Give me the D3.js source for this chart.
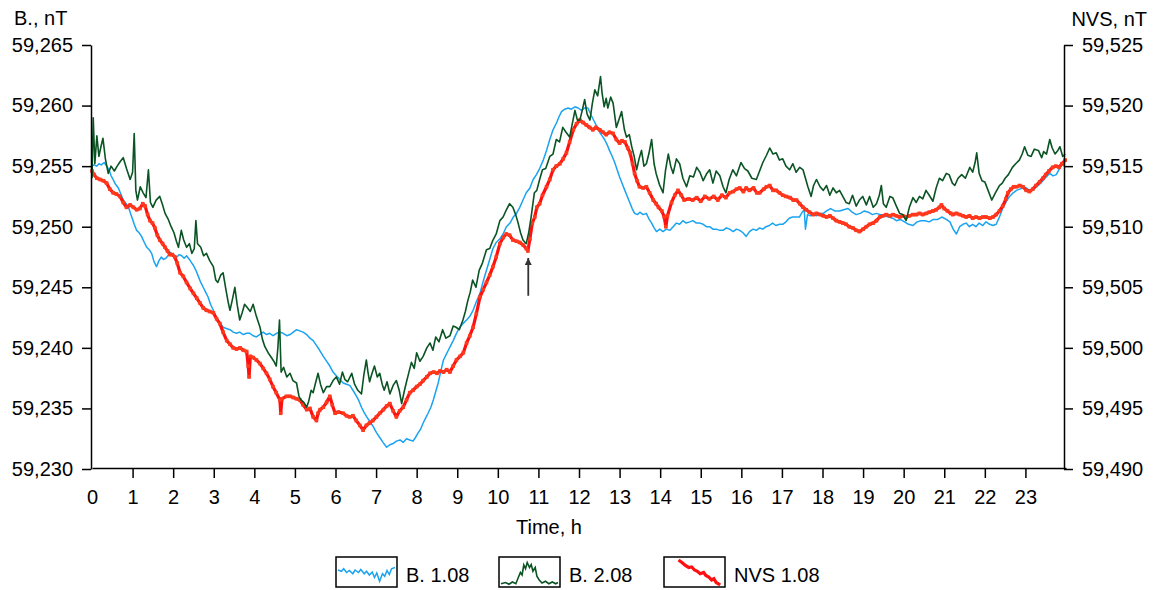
<!DOCTYPE html>
<html>
<head>
<meta charset="utf-8">
<style>
  body { margin: 0; background: #fff; }
  svg { display: block; font-family: Arial, "Liberation Sans", sans-serif; }
</style>
</head>
<body>
<svg id="chart" width="1155" height="590"></svg>
<script src="https://cdn.jsdelivr.net/npm/d3@7/dist/d3.min.js"></script>
<script>
// ---- data: [hour, nT] ----
const hourTicks = [0,1,2,3,4,5,6,7,8,9,10,11,12,13,14,15,16,17,18,19,20,21,22,23];
const leftTicks = [59230,59235,59240,59245,59250,59255,59260,59265];
const rightTicks = [59490,59495,59500,59505,59510,59515,59520,59525];

// B. 1.08 (left axis)
const b108 = [[0,59255.0],[0.05,59255.1],[0.12,59255.0],[0.17,59255.2],[0.23,59255.1],[0.3,59255.3],[0.36,59255.0],[0.42,59254.7],[0.47,59254.2],[0.52,59253.9],[0.58,59253.5],[0.65,59253.2],[0.71,59252.7],[0.77,59252.2],[0.84,59251.9],[0.9,59251.6],[0.95,59251.1],[0.98,59250.8],[1.04,59250.2],[1.1,59249.7],[1.16,59249.5],[1.22,59249.2],[1.29,59248.7],[1.35,59248.3],[1.41,59248.1],[1.47,59247.8],[1.53,59247.1],[1.59,59246.7],[1.65,59247.2],[1.71,59247.5],[1.76,59247.3],[1.82,59247.4],[1.87,59247.6],[1.92,59247.9],[1.96,59247.8],[2.03,59247.6],[2.09,59247.5],[2.15,59247.7],[2.21,59247.6],[2.27,59247.4],[2.33,59247.6],[2.4,59247.3],[2.46,59247.0],[2.5,59246.8],[2.56,59246.4],[2.62,59245.9],[2.68,59245.4],[2.74,59245.0],[2.8,59244.6],[2.86,59244.2],[2.92,59243.6],[2.99,59243.1],[3.05,59242.6],[3.11,59242.3],[3.17,59242.0],[3.23,59241.7],[3.31,59241.6],[3.4,59241.5],[3.48,59241.3],[3.56,59241.2],[3.64,59241.3],[3.73,59241.1],[3.81,59241.2],[3.89,59241.2],[3.97,59241.0],[4.05,59240.9],[4.13,59241.1],[4.22,59241.3],[4.3,59241.1],[4.38,59241.2],[4.46,59241.0],[4.55,59241.2],[4.63,59241.3],[4.71,59241.2],[4.8,59241.0],[4.88,59241.1],[4.96,59241.3],[5.04,59241.5],[5.12,59241.4],[5.2,59241.3],[5.29,59241.1],[5.37,59240.8],[5.45,59240.6],[5.53,59240.2],[5.61,59239.8],[5.7,59239.3],[5.78,59238.9],[5.86,59238.5],[5.94,59238.0],[6.02,59237.7],[6.1,59237.4],[6.19,59237.1],[6.27,59237.0],[6.35,59236.9],[6.43,59236.5],[6.52,59236.0],[6.58,59235.6],[6.64,59235.1],[6.7,59234.7],[6.77,59234.3],[6.85,59233.9],[6.93,59233.5],[7.01,59233.0],[7.09,59232.6],[7.17,59232.2],[7.26,59231.8],[7.34,59232.0],[7.42,59232.1],[7.5,59232.3],[7.59,59232.4],[7.67,59232.2],[7.75,59232.5],[7.83,59232.4],[7.91,59232.3],[7.97,59232.6],[8.04,59233.0],[8.1,59233.3],[8.16,59233.8],[8.22,59234.2],[8.28,59234.6],[8.35,59235.1],[8.41,59235.7],[8.47,59236.4],[8.53,59237.1],[8.59,59238.0],[8.66,59239.0],[8.72,59239.4],[8.78,59239.8],[8.84,59240.2],[8.9,59240.6],[8.98,59241.2],[9.06,59241.7],[9.14,59242.0],[9.23,59242.3],[9.31,59242.6],[9.39,59243.1],[9.47,59243.8],[9.56,59244.5],[9.64,59245.5],[9.72,59246.4],[9.8,59247.3],[9.88,59248.2],[9.96,59248.7],[10.05,59249.0],[10.13,59249.4],[10.21,59250.0],[10.3,59250.3],[10.38,59250.8],[10.46,59251.1],[10.54,59251.6],[10.62,59252.2],[10.7,59252.8],[10.79,59253.2],[10.87,59253.9],[10.95,59254.3],[11.03,59254.8],[11.12,59255.5],[11.2,59256.3],[11.28,59257.2],[11.36,59258.0],[11.45,59258.6],[11.51,59259.1],[11.57,59259.5],[11.65,59259.7],[11.73,59259.8],[11.81,59259.7],[11.9,59259.9],[11.98,59259.8],[12.06,59259.6],[12.14,59259.8],[12.22,59259.8],[12.3,59259.2],[12.39,59258.6],[12.45,59258.2],[12.51,59257.8],[12.57,59257.5],[12.63,59257.2],[12.69,59256.8],[12.75,59256.3],[12.82,59255.8],[12.88,59255.3],[12.94,59254.7],[13.0,59254.1],[13.07,59253.5],[13.13,59253.0],[13.19,59252.5],[13.25,59252.0],[13.31,59251.5],[13.37,59251.1],[13.44,59251.0],[13.5,59251.2],[13.58,59251.0],[13.66,59251.1],[13.73,59250.6],[13.79,59250.3],[13.85,59249.9],[13.91,59249.6],[13.99,59249.8],[14.07,59249.6],[14.15,59249.8],[14.24,59249.7],[14.32,59250.0],[14.4,59250.3],[14.48,59250.2],[14.56,59250.5],[14.64,59250.3],[14.73,59250.4],[14.81,59250.5],[14.89,59250.3],[14.98,59250.3],[15.06,59250.2],[15.14,59250.0],[15.22,59250.0],[15.3,59249.8],[15.38,59249.8],[15.47,59249.7],[15.55,59249.7],[15.63,59249.9],[15.71,59249.8],[15.8,59249.6],[15.88,59249.8],[15.96,59249.7],[16.04,59249.5],[16.12,59249.2],[16.2,59249.6],[16.29,59249.8],[16.37,59249.7],[16.45,59249.9],[16.53,59249.8],[16.61,59250.0],[16.69,59250.1],[16.77,59250.3],[16.85,59250.1],[16.94,59250.2],[17.02,59250.2],[17.1,59250.4],[17.18,59250.7],[17.26,59250.8],[17.35,59250.8],[17.43,59250.8],[17.5,59251.2],[17.55,59251.4],[17.58,59249.8],[17.63,59251.0],[17.7,59250.9],[17.77,59251.0],[17.85,59250.9],[17.94,59251.1],[18.02,59251.1],[18.1,59251.3],[18.2,59251.5],[18.3,59251.3],[18.42,59251.3],[18.52,59251.4],[18.63,59251.5],[18.73,59251.2],[18.83,59251.0],[18.93,59251.1],[19.03,59251.3],[19.13,59251.2],[19.23,59251.0],[19.33,59251.1],[19.43,59251.0],[19.53,59250.9],[19.63,59250.8],[19.73,59250.7],[19.82,59250.5],[19.92,59250.6],[20.02,59250.4],[20.12,59250.2],[20.23,59250.1],[20.33,59250.4],[20.43,59250.5],[20.53,59250.5],[20.63,59250.4],[20.73,59250.6],[20.84,59250.6],[20.94,59250.8],[21.05,59250.6],[21.14,59250.4],[21.22,59249.8],[21.3,59249.4],[21.38,59250.0],[21.46,59250.2],[21.54,59250.3],[21.62,59250.0],[21.7,59250.2],[21.78,59250.0],[21.86,59250.3],[21.95,59250.1],[22.03,59250.4],[22.12,59250.2],[22.2,59250.1],[22.28,59250.2],[22.36,59250.8],[22.45,59251.6],[22.53,59252.1],[22.61,59252.5],[22.7,59252.8],[22.78,59253.0],[22.86,59253.1],[22.94,59253.2],[23.02,59253.2],[23.1,59253.0],[23.19,59253.0],[23.27,59253.3],[23.35,59253.5],[23.43,59253.8],[23.51,59254.1],[23.6,59254.4],[23.68,59254.2],[23.76,59254.3],[23.84,59254.8],[23.9,59255.2],[23.96,59255.0]];

// B. 2.08 (left axis)
const b208 = [[0,59254.0],[0.03,59259.0],[0.07,59255.2],[0.12,59257.5],[0.17,59255.8],[0.22,59256.6],[0.27,59257.3],[0.33,59255.6],[0.4,59254.4],[0.47,59255.0],[0.55,59254.6],[0.62,59255.0],[0.7,59255.4],[0.77,59255.7],[0.85,59254.8],[0.94,59253.9],[1.0,59254.5],[1.04,59257.7],[1.08,59253.0],[1.12,59252.2],[1.19,59253.3],[1.26,59252.8],[1.33,59252.4],[1.39,59254.7],[1.44,59252.0],[1.5,59251.6],[1.58,59252.2],[1.67,59252.5],[1.74,59251.8],[1.8,59251.1],[1.88,59250.6],[1.95,59250.0],[2.02,59249.5],[2.08,59248.8],[2.13,59248.3],[2.2,59249.7],[2.26,59248.9],[2.33,59248.3],[2.4,59248.6],[2.46,59247.8],[2.52,59248.2],[2.56,59250.5],[2.6,59248.6],[2.68,59248.3],[2.75,59247.6],[2.82,59247.8],[2.9,59247.2],[2.99,59246.7],[3.05,59245.6],[3.1,59245.4],[3.17,59246.0],[3.23,59246.2],[3.3,59244.8],[3.36,59243.7],[3.4,59243.1],[3.46,59244.0],[3.52,59245.0],[3.58,59243.5],[3.64,59242.3],[3.7,59242.9],[3.76,59243.6],[3.81,59243.4],[3.9,59243.0],[3.97,59243.6],[4.05,59242.6],[4.14,59241.7],[4.2,59240.7],[4.26,59240.1],[4.34,59239.6],[4.42,59239.2],[4.48,59238.9],[4.54,59238.5],[4.58,59240.0],[4.62,59242.3],[4.66,59238.0],[4.72,59238.4],[4.8,59237.6],[4.88,59237.9],[4.95,59237.3],[5.04,59237.1],[5.1,59236.0],[5.15,59235.7],[5.22,59235.5],[5.29,59235.1],[5.34,59235.6],[5.4,59236.5],[5.45,59236.3],[5.5,59237.0],[5.57,59237.9],[5.63,59237.0],[5.7,59236.3],[5.78,59236.8],[5.86,59236.8],[5.94,59237.3],[6.02,59237.6],[6.1,59237.0],[6.17,59238.0],[6.23,59237.4],[6.3,59237.2],[6.4,59237.9],[6.47,59237.0],[6.55,59236.5],[6.64,59236.2],[6.7,59237.8],[6.76,59239.0],[6.8,59238.0],[6.84,59237.2],[6.9,59237.9],[6.96,59238.5],[7.03,59237.6],[7.09,59237.9],[7.15,59237.0],[7.2,59236.5],[7.27,59237.2],[7.34,59236.2],[7.42,59236.9],[7.5,59237.3],[7.57,59236.5],[7.63,59235.4],[7.7,59236.5],[7.75,59237.2],[7.81,59238.0],[7.87,59238.8],[7.94,59238.3],[8.0,59239.6],[8.08,59238.9],[8.16,59239.3],[8.25,59240.0],[8.33,59240.4],[8.4,59239.8],[8.47,59240.9],[8.55,59240.5],[8.64,59241.5],[8.72,59240.8],[8.82,59241.0],[8.9,59241.8],[8.97,59241.7],[9.05,59241.5],[9.14,59242.3],[9.2,59243.0],[9.26,59243.9],[9.32,59244.6],[9.38,59245.6],[9.46,59245.0],[9.54,59246.4],[9.62,59247.0],[9.72,59248.1],[9.8,59248.2],[9.88,59248.9],[9.96,59249.4],[10.05,59250.5],[10.13,59250.8],[10.21,59251.4],[10.29,59251.9],[10.37,59251.6],[10.44,59251.0],[10.5,59250.3],[10.56,59249.5],[10.62,59248.9],[10.7,59248.6],[10.76,59249.5],[10.82,59250.8],[10.9,59252.8],[10.96,59253.0],[11.03,59253.9],[11.1,59254.7],[11.18,59254.8],[11.28,59255.8],[11.36,59256.0],[11.44,59257.2],[11.52,59257.0],[11.6,59258.2],[11.68,59257.8],[11.77,59257.4],[11.84,59258.6],[11.9,59259.6],[11.96,59258.8],[12.02,59258.8],[12.08,59259.6],[12.14,59260.5],[12.2,59259.3],[12.27,59258.8],[12.33,59260.2],[12.39,59261.3],[12.46,59260.8],[12.53,59262.4],[12.57,59261.0],[12.62,59259.9],[12.67,59260.6],[12.71,59259.8],[12.78,59260.7],[12.84,59260.2],[12.92,59258.2],[13.0,59259.0],[13.05,59259.5],[13.12,59258.0],[13.17,59257.4],[13.24,59257.6],[13.3,59256.6],[13.36,59255.8],[13.42,59254.7],[13.48,59255.6],[13.54,59256.3],[13.6,59255.0],[13.66,59255.2],[13.72,59256.0],[13.79,59257.2],[13.85,59255.2],[13.9,59254.4],[13.98,59253.5],[14.07,59252.8],[14.13,59254.6],[14.2,59256.0],[14.26,59255.0],[14.32,59254.4],[14.4,59255.6],[14.48,59255.2],[14.56,59254.0],[14.65,59253.3],[14.73,59254.2],[14.82,59254.1],[14.9,59254.9],[14.98,59254.5],[15.06,59253.8],[15.15,59254.4],[15.22,59254.7],[15.3,59253.6],[15.38,59254.6],[15.47,59254.2],[15.55,59253.3],[15.62,59252.8],[15.7,59253.9],[15.79,59254.7],[15.88,59254.2],[15.99,59255.3],[16.08,59254.8],[16.16,59254.6],[16.26,59254.0],[16.37,59253.9],[16.45,59254.6],[16.53,59255.3],[16.62,59255.9],[16.7,59256.5],[16.78,59256.0],[16.86,59256.1],[16.94,59255.5],[17.02,59255.6],[17.1,59255.0],[17.19,59254.7],[17.27,59255.2],[17.35,59254.5],[17.44,59254.9],[17.52,59254.7],[17.58,59254.0],[17.64,59253.3],[17.72,59252.5],[17.78,59253.4],[17.85,59253.9],[17.94,59253.3],[18.02,59253.0],[18.1,59253.4],[18.18,59252.6],[18.26,59253.2],[18.34,59252.8],[18.42,59253.0],[18.5,59252.5],[18.58,59252.0],[18.66,59251.9],[18.74,59252.6],[18.83,59251.7],[18.91,59252.2],[18.99,59252.5],[19.08,59251.8],[19.16,59252.5],[19.25,59251.6],[19.33,59251.9],[19.4,59252.6],[19.45,59253.4],[19.5,59251.9],[19.57,59251.6],[19.66,59252.5],[19.73,59252.4],[19.82,59251.7],[19.9,59251.1],[19.98,59251.0],[20.06,59250.5],[20.14,59251.6],[20.23,59252.4],[20.31,59252.0],[20.39,59252.5],[20.47,59252.3],[20.55,59253.0],[20.63,59252.6],[20.72,59252.1],[20.8,59253.2],[20.88,59254.0],[20.96,59253.8],[21.05,59254.4],[21.12,59254.3],[21.2,59253.6],[21.26,59253.4],[21.34,59254.0],[21.43,59254.3],[21.52,59254.0],[21.63,59254.9],[21.7,59254.5],[21.76,59255.3],[21.8,59256.1],[21.86,59254.4],[21.93,59253.8],[22.0,59253.7],[22.08,59253.0],[22.17,59252.2],[22.26,59252.8],[22.36,59253.4],[22.43,59253.6],[22.5,59254.0],[22.58,59254.3],[22.68,59254.9],[22.76,59255.2],[22.85,59255.5],[22.92,59256.0],[22.98,59256.6],[23.06,59255.9],[23.14,59255.8],[23.22,59256.4],[23.32,59256.3],[23.4,59255.7],[23.45,59256.2],[23.52,59256.0],[23.6,59257.2],[23.66,59256.5],[23.73,59256.0],[23.8,59256.3],[23.85,59256.6],[23.92,59255.8],[23.98,59256.0]];

// NVS 1.08 (right axis)
const nvs108 = [[0,59514.6],[0.05,59514.3],[0.12,59514.0],[0.2,59513.9],[0.28,59513.8],[0.36,59513.6],[0.44,59513.1],[0.52,59512.8],[0.6,59512.7],[0.69,59512.5],[0.77,59512.0],[0.85,59511.6],[0.94,59511.8],[1.02,59511.6],[1.1,59511.4],[1.18,59511.5],[1.25,59511.9],[1.31,59511.7],[1.37,59511.0],[1.43,59510.5],[1.49,59510.3],[1.55,59509.9],[1.61,59509.3],[1.67,59508.9],[1.74,59508.6],[1.8,59508.3],[1.86,59508.0],[1.92,59507.7],[1.98,59507.7],[2.04,59507.5],[2.1,59507.0],[2.17,59506.2],[2.25,59505.9],[2.33,59505.4],[2.42,59504.9],[2.5,59504.5],[2.58,59504.1],[2.66,59503.7],[2.74,59503.3],[2.82,59503.1],[2.9,59503.0],[2.99,59502.9],[3.07,59502.4],[3.15,59502.0],[3.23,59501.3],[3.32,59500.6],[3.4,59500.3],[3.48,59500.0],[3.56,59499.9],[3.65,59500.0],[3.73,59499.8],[3.81,59499.7],[3.85,59498.5],[3.87,59497.6],[3.9,59499.3],[3.97,59499.2],[4.05,59499.0],[4.14,59498.7],[4.22,59498.3],[4.3,59497.9],[4.38,59497.4],[4.46,59496.8],[4.54,59496.3],[4.63,59495.7],[4.65,59494.6],[4.68,59495.8],[4.79,59496.0],[4.88,59496.0],[4.96,59495.9],[5.04,59495.8],[5.12,59495.7],[5.2,59495.3],[5.29,59494.9],[5.37,59495.0],[5.45,59494.3],[5.53,59494.0],[5.57,59494.6],[5.62,59494.9],[5.7,59495.1],[5.78,59495.5],[5.86,59496.0],[5.92,59495.3],[5.99,59494.6],[6.07,59494.7],[6.19,59494.6],[6.27,59494.4],[6.35,59494.3],[6.43,59494.4],[6.51,59494.0],[6.6,59493.6],[6.68,59493.2],[6.76,59493.6],[6.84,59493.8],[6.92,59494.0],[7.01,59494.3],[7.09,59494.6],[7.18,59494.9],[7.26,59495.2],[7.34,59495.4],[7.42,59494.8],[7.5,59494.3],[7.58,59494.8],[7.67,59495.1],[7.75,59495.7],[7.83,59496.3],[7.91,59496.5],[8.0,59496.8],[8.08,59497.0],[8.16,59497.3],[8.25,59497.6],[8.33,59497.9],[8.42,59498.0],[8.5,59497.9],[8.58,59498.1],[8.66,59498.0],[8.74,59498.2],[8.82,59498.0],[8.9,59498.5],[8.98,59499.0],[9.07,59499.3],[9.15,59499.6],[9.23,59500.4],[9.31,59501.0],[9.39,59501.7],[9.47,59502.8],[9.56,59504.2],[9.64,59504.8],[9.72,59505.4],[9.8,59506.0],[9.88,59506.7],[9.96,59507.5],[10.05,59508.6],[10.13,59509.1],[10.21,59509.4],[10.29,59509.3],[10.37,59508.9],[10.46,59508.8],[10.54,59508.7],[10.62,59508.5],[10.7,59508.2],[10.74,59508.0],[10.79,59509.0],[10.85,59510.3],[10.91,59510.8],[10.96,59511.6],[11.03,59511.9],[11.1,59512.6],[11.2,59513.3],[11.28,59513.9],[11.36,59514.7],[11.44,59515.0],[11.53,59515.2],[11.61,59515.6],[11.69,59516.1],[11.77,59517.0],[11.86,59518.0],[11.94,59518.5],[12.02,59518.8],[12.1,59518.6],[12.18,59518.4],[12.26,59518.2],[12.34,59518.0],[12.42,59518.2],[12.51,59518.0],[12.59,59517.8],[12.67,59517.6],[12.75,59517.8],[12.84,59517.7],[12.92,59517.2],[13.0,59516.9],[13.06,59517.1],[13.13,59517.0],[13.2,59516.5],[13.26,59516.1],[13.32,59515.2],[13.37,59514.4],[13.43,59513.8],[13.49,59513.3],[13.58,59513.2],[13.66,59513.3],[13.74,59512.8],[13.83,59512.2],[13.9,59511.9],[13.96,59511.6],[14.04,59511.3],[14.1,59510.8],[14.14,59510.0],[14.18,59510.9],[14.28,59512.0],[14.36,59512.6],[14.44,59513.0],[14.52,59512.6],[14.59,59512.2],[14.7,59512.3],[14.8,59512.2],[14.9,59512.4],[15.0,59512.1],[15.1,59512.5],[15.21,59512.3],[15.32,59512.5],[15.42,59512.2],[15.52,59512.6],[15.62,59512.4],[15.71,59512.8],[15.8,59512.9],[15.88,59513.1],[15.96,59513.2],[16.05,59512.9],[16.12,59513.2],[16.2,59513.0],[16.3,59513.2],[16.38,59512.8],[16.45,59512.8],[16.55,59513.1],[16.62,59513.3],[16.7,59513.4],[16.78,59513.0],[16.86,59513.0],[16.94,59512.8],[17.02,59512.6],[17.1,59512.5],[17.2,59512.4],[17.28,59512.2],[17.36,59512.2],[17.44,59511.9],[17.52,59511.6],[17.6,59511.4],[17.68,59511.2],[17.77,59511.0],[17.85,59511.1],[17.94,59511.0],[18.02,59510.9],[18.1,59510.8],[18.18,59510.9],[18.26,59510.7],[18.34,59510.5],[18.42,59510.4],[18.5,59510.3],[18.58,59510.2],[18.66,59510.0],[18.75,59509.9],[18.83,59509.7],[18.91,59509.6],[19.0,59509.8],[19.08,59510.0],[19.16,59510.2],[19.25,59510.3],[19.33,59510.5],[19.41,59510.8],[19.49,59510.9],[19.57,59511.0],[19.66,59510.9],[19.74,59511.0],[19.82,59510.9],[19.9,59510.8],[19.98,59510.9],[20.06,59510.8],[20.14,59510.9],[20.23,59511.0],[20.31,59511.0],[20.39,59511.1],[20.47,59511.0],[20.56,59511.1],[20.63,59511.2],[20.72,59511.3],[20.8,59511.4],[20.88,59511.6],[20.93,59511.8],[21.0,59511.5],[21.08,59511.3],[21.16,59511.1],[21.21,59511.0],[21.3,59511.1],[21.38,59511.0],[21.46,59510.9],[21.54,59510.8],[21.62,59510.9],[21.7,59510.7],[21.78,59510.8],[21.87,59510.7],[21.95,59510.8],[22.03,59510.8],[22.12,59510.7],[22.2,59510.8],[22.28,59511.0],[22.36,59511.3],[22.44,59511.7],[22.52,59512.3],[22.57,59512.8],[22.64,59513.1],[22.71,59513.3],[22.78,59513.3],[22.86,59513.4],[22.94,59513.3],[23.02,59513.0],[23.1,59512.9],[23.18,59513.1],[23.26,59513.4],[23.35,59513.7],[23.43,59514.0],[23.5,59514.3],[23.58,59514.6],[23.67,59514.9],[23.75,59515.0],[23.83,59514.9],[23.9,59515.2],[23.98,59515.5]];

// arrow mark near 10.75 h (left-axis units)
const arrowHour = 10.75;
const arrowFrom = 59244.3;
const arrowTo = 59247.75;

// legend samples, [0..1 across, 0..1 down] inside each box
const legendBlue = [[0,0.4],[0.06,0.45],[0.1,0.35],[0.15,0.5],[0.2,0.42],[0.26,0.55],[0.3,0.4],[0.36,0.5],[0.4,0.38],[0.46,0.55],[0.5,0.45],[0.55,0.6],[0.6,0.48],[0.64,0.7],[0.68,0.52],[0.73,0.85],[0.78,0.55],[0.82,0.65],[0.86,0.42],[0.9,0.58],[0.94,0.35],[1,0.3]];
const legendGreen = [[0,0.95],[0.08,0.9],[0.14,0.97],[0.2,0.88],[0.26,0.95],[0.3,0.72],[0.34,0.5],[0.37,0.6],[0.4,0.2],[0.43,0.35],[0.46,0.1],[0.5,0.3],[0.53,0.18],[0.56,0.45],[0.6,0.3],[0.63,0.65],[0.67,0.8],[0.72,0.92],[0.78,0.85],[0.84,0.95],[0.9,0.88],[0.96,0.95],[1,0.9]];
const legendRed = [[0.22,0],[0.28,0.1],[0.34,0.22],[0.4,0.3],[0.45,0.28],[0.5,0.4],[0.55,0.45],[0.6,0.55],[0.66,0.5],[0.7,0.62],[0.75,0.68],[0.8,0.8],[0.84,0.75],[0.88,0.9],[0.92,0.95],[0.95,1]];

const series = [
  { name: 'B. 1.08', data: b108, axis: 'left', color: '#1aa3f0', width: 1.5 },
  { name: 'NVS 1.08', data: nvs108, axis: 'right', color: '#ff1010', width: 3.2, markers: true },
  { name: 'B. 2.08', data: b208, axis: 'left', color: '#0a5424', width: 1.6 },
];

// ---- layout ----
const svg = d3.select('#chart');
const fontSize = 20;

const x = d3.scaleLinear().domain([0, 24]).range([92, 1066]);
const yLeft = d3.scaleLinear().domain([59230, 59265]).range([469, 45]);
const yRight = d3.scaleLinear().domain([59490, 59525]).range([469, 45]);
const fmt = d3.format(',');

// series lines
const plot = svg.append('g');
series.forEach(s => {
  const y = s.axis === 'left' ? yLeft : yRight;
  const line = d3.line().x(d => x(d[0])).y(d => y(d[1]));
  plot.append('path')
    .datum(s.data)
    .attr('d', line)
    .attr('fill', 'none')
    .attr('stroke', s.color)
    .attr('stroke-width', s.width)
    .attr('stroke-linejoin', 'round');
  if (s.markers) {
    plot.append('g').selectAll('rect')
      .data(s.data)
      .join('rect')
      .attr('x', d => x(d[0]) - 1.8)
      .attr('y', d => y(d[1]) - 1.8)
      .attr('width', 3.6)
      .attr('height', 3.6)
      .attr('fill', '#ff3a1c');
  }
});

// arrow
svg.append('defs').append('marker')
  .attr('id', 'head')
  .attr('viewBox', '0 0 10 10')
  .attr('refX', 10).attr('refY', 5)
  .attr('markerWidth', 9).attr('markerHeight', 7)
  .attr('markerUnits', 'userSpaceOnUse')
  .attr('orient', 'auto')
  .append('path').attr('d', 'M0,0L10,5L0,10z').attr('fill', '#333');

svg.append('line')
  .attr('x1', x(arrowHour)).attr('x2', x(arrowHour))
  .attr('y1', yLeft(arrowFrom)).attr('y2', yLeft(arrowTo) + 4)
  .attr('stroke', '#333')
  .attr('stroke-width', 1.8)
  .attr('marker-end', 'url(#head)');

// axes
function styleAxis(g) {
  g.selectAll('path.domain').attr('stroke', '#000').attr('stroke-width', 1.5);
  g.selectAll('.tick line').attr('stroke', '#000').attr('stroke-width', 1.5);
  g.selectAll('.tick text')
    .attr('fill', '#000')
    .style('font-size', fontSize + 'px')
    .style('font-family', 'Arial, "Liberation Sans", sans-serif');
}

svg.append('g')
  .attr('transform', 'translate(91,0)')
  .call(d3.axisLeft(yLeft).tickValues(leftTicks).tickFormat(fmt).tickSize(9).tickPadding(9).tickSizeOuter(0))
  .call(styleAxis);

svg.append('g')
  .attr('transform', 'translate(1064,0)')
  .call(d3.axisRight(yRight).tickValues(rightTicks).tickFormat(fmt).tickSize(9).tickPadding(9).tickSizeOuter(0))
  .call(styleAxis);

const xAxisG = svg.append('g')
  .attr('transform', 'translate(0,468)')
  .call(d3.axisBottom(x).tickValues(hourTicks).tickSize(10).tickPadding(12).tickSizeOuter(0))
  .call(styleAxis);
xAxisG.selectAll('.tick').filter(d => d === 0).select('line').remove();

// axis titles
svg.append('text').attr('x', 14).attr('y', 25).attr('font-size', fontSize).text('B., nT');
svg.append('text').attr('x', 1147).attr('y', 26).attr('text-anchor', 'end').attr('font-size', fontSize).text('NVS, nT');
svg.append('text').attr('x', 549).attr('y', 534).attr('text-anchor', 'middle').attr('font-size', fontSize).text('Time, h');

// legend
const legendItems = [
  { label: 'B. 1.08', sample: legendBlue, color: '#1aa3f0', width: 1.5, x: 336 },
  { label: 'B. 2.08', sample: legendGreen, color: '#0a5424', width: 1.6, x: 499 },
  { label: 'NVS 1.08', sample: legendRed, color: '#ff1010', width: 3.2, x: 664 },
];
const boxW = 61, boxH = 30, boxY = 557;
const lx = d3.scaleLinear().domain([0, 1]).range([2, boxW - 2]);
const ly = d3.scaleLinear().domain([0, 1]).range([3, boxH - 2]);

legendItems.forEach(item => {
  const g = svg.append('g').attr('transform', `translate(${item.x},${boxY})`);
  g.append('path')
    .datum(item.sample)
    .attr('d', d3.line().x(d => lx(d[0])).y(d => ly(d[1])))
    .attr('fill', 'none')
    .attr('stroke', item.color)
    .attr('stroke-width', item.width);
  g.append('rect')
    .attr('width', boxW).attr('height', boxH)
    .attr('fill', 'none').attr('stroke', '#000').attr('stroke-width', 1.5);
  g.append('text')
    .attr('x', boxW + 9).attr('y', 25)
    .attr('font-size', fontSize)
    .text(item.label);
});
</script>
</body>
</html>
